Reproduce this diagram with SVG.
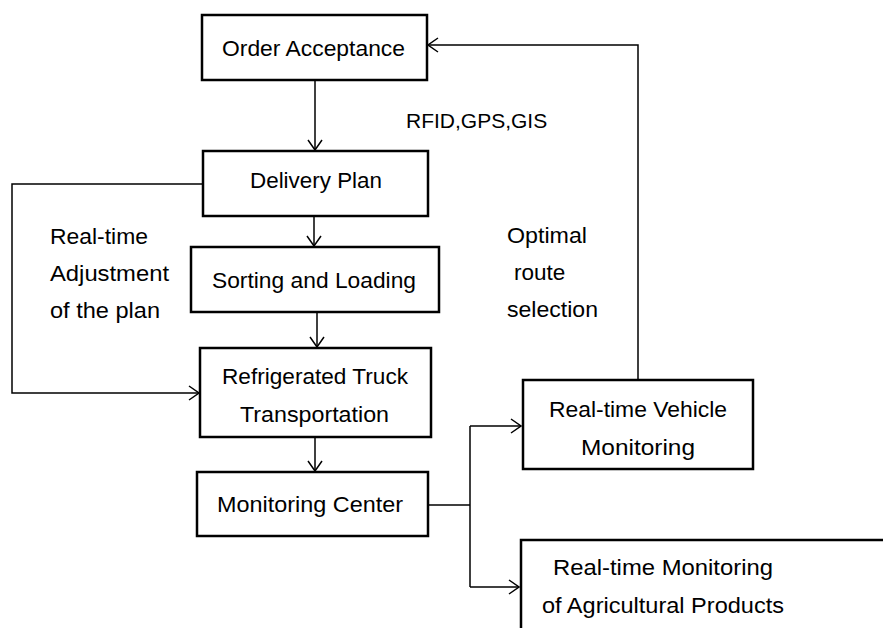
<svg xmlns="http://www.w3.org/2000/svg" width="883" height="628" viewBox="0 0 883 628">
  <style>
    .box { fill: #ffffff; stroke: #000000; stroke-width: 2.5; }
    .lbl { font-family: "Liberation Sans", Arial, sans-serif; font-size: 22.5px; fill: #000000; }
    .mid { text-anchor: middle; }
    .wire { fill: none; stroke: #000000; stroke-width: 1.5; }
  </style>
  <defs>
    <marker id="chev" viewBox="0 0 12 16" refX="11" refY="8" markerWidth="12" markerHeight="16" markerUnits="userSpaceOnUse" orient="auto">
      <path d="M1,1 L11,8 L1,15" fill="none" stroke="#000000" stroke-width="1.5"/>
    </marker>
  </defs>
  <rect width="883" height="628" fill="#ffffff"/>

  <g id="connectors">
    <path class="wire" d="M315,80 L315,150" marker-end="url(#chev)"/>
    <path class="wire" d="M314,216 L314,246" marker-end="url(#chev)"/>
    <path class="wire" d="M317,312 L317,347" marker-end="url(#chev)"/>
    <path class="wire" d="M315,437 L315,471" marker-end="url(#chev)"/>
    <path class="wire" d="M203,184 L12,184 L12,393 L199,393" marker-end="url(#chev)"/>
    <path class="wire" d="M428,505 L470,505"/>
    <path class="wire" d="M470,426 L470,587"/>
    <path class="wire" d="M470,426 L521,426" marker-end="url(#chev)"/>
    <path class="wire" d="M470,587 L519,587" marker-end="url(#chev)"/>
    <path class="wire" d="M638,380 L638,45 L428,45" marker-end="url(#chev)"/>
  </g>

  <g id="order-acceptance">
    <rect class="box" x="202" y="15" width="225" height="65"/>
    <text class="lbl mid" x="313.5" y="56" textLength="183" lengthAdjust="spacingAndGlyphs">Order Acceptance</text>
  </g>
  <g id="delivery-plan">
    <rect class="box" x="203" y="151" width="225" height="65"/>
    <text class="lbl mid" x="316" y="188" textLength="132" lengthAdjust="spacingAndGlyphs">Delivery Plan</text>
  </g>
  <g id="sorting-loading">
    <rect class="box" x="191" y="247" width="248" height="65"/>
    <text class="lbl mid" x="314" y="288" textLength="204" lengthAdjust="spacingAndGlyphs">Sorting and Loading</text>
  </g>
  <g id="truck-transport">
    <rect class="box" x="200" y="348" width="231" height="89"/>
    <text class="lbl mid" x="315" y="384" textLength="186" lengthAdjust="spacingAndGlyphs">Refrigerated Truck</text>
    <text class="lbl mid" x="314.5" y="422" textLength="149" lengthAdjust="spacingAndGlyphs">Transportation</text>
  </g>
  <g id="monitoring-center">
    <rect class="box" x="197" y="472" width="231" height="64"/>
    <text class="lbl mid" x="310" y="512" textLength="186" lengthAdjust="spacingAndGlyphs">Monitoring Center</text>
  </g>
  <g id="vehicle-monitoring">
    <rect class="box" x="523" y="380" width="230" height="89"/>
    <text class="lbl mid" x="638" y="417" textLength="178" lengthAdjust="spacingAndGlyphs">Real-time Vehicle</text>
    <text class="lbl mid" x="638" y="455" textLength="114" lengthAdjust="spacingAndGlyphs">Monitoring</text>
  </g>
  <g id="product-monitoring">
    <rect class="box" x="521" y="540" width="370" height="100"/>
    <text class="lbl" x="553" y="575" textLength="220" lengthAdjust="spacingAndGlyphs">Real-time Monitoring</text>
    <text class="lbl" x="542" y="613" textLength="242" lengthAdjust="spacingAndGlyphs">of Agricultural Products</text>
  </g>

  <g id="annotations">
    <text class="lbl" x="406" y="128" style="font-size:21px">RFID,GPS,GIS</text>
    <text class="lbl" x="50" y="244" textLength="98" lengthAdjust="spacingAndGlyphs">Real-time</text>
    <text class="lbl" x="50" y="281" textLength="119" lengthAdjust="spacingAndGlyphs">Adjustment</text>
    <text class="lbl" x="50" y="318" textLength="110" lengthAdjust="spacingAndGlyphs">of the plan</text>
    <text class="lbl" x="507" y="243" textLength="80" lengthAdjust="spacingAndGlyphs">Optimal</text>
    <text class="lbl" x="514" y="280">route</text>
    <text class="lbl" x="507" y="317" textLength="91" lengthAdjust="spacingAndGlyphs">selection</text>
  </g>
</svg>
